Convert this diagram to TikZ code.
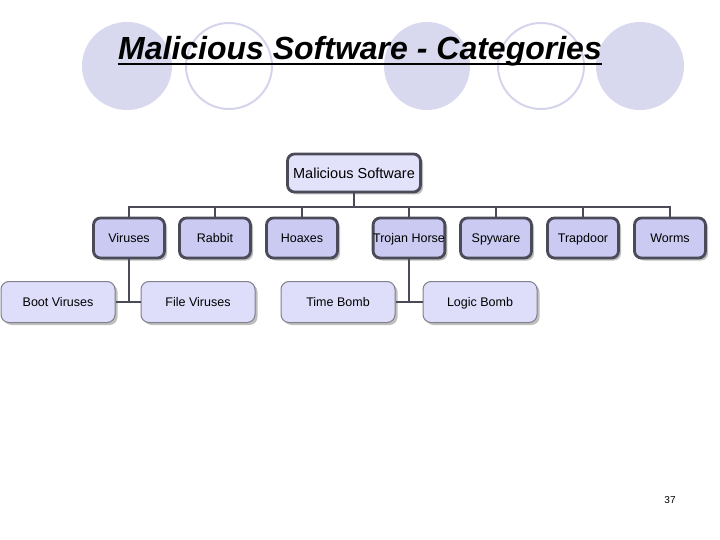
\documentclass[tikz,border=0pt]{standalone}
\usepackage{fontspec}
\setmainfont{Liberation Sans}
\usetikzlibrary{shadows}
\definecolor{circfill}{RGB}{216,216,238}
\definecolor{circline}{RGB}{212,212,236}
\definecolor{rootfill}{RGB}{226,226,250}
\definecolor{lvtwofill}{RGB}{202,202,242}
\definecolor{lvthreefill}{RGB}{222,222,250}
\definecolor{darkline}{RGB}{74,74,88}
\definecolor{greyline}{RGB}{128,128,140}
\tikzset{
  shad/.style={drop shadow={shadow xshift=2.5pt,shadow yshift=-2.5pt,fill=black,opacity=0.25}},
  rootbox/.style={shad,draw=darkline,line width=2.8pt,fill=rootfill,rounded corners=7pt,
    minimum width=133pt,minimum height=38pt,inner sep=0pt,text height=13.4pt,text depth=3pt,
    font=\fontsize{14.5}{16}\selectfont},
  lvtwo/.style={shad,draw=darkline,line width=2.8pt,fill=lvtwofill,rounded corners=7pt,
    minimum width=71pt,minimum height=40pt,inner sep=0pt,text height=11.5pt,text depth=2.6pt,
    font=\fontsize{12.5}{14}\selectfont},
  lvthree/.style={shad,draw=greyline,line width=1pt,fill=lvthreefill,rounded corners=8pt,
    minimum width=114pt,minimum height=41pt,inner sep=0pt,text height=11.5pt,text depth=2.6pt,
    font=\fontsize{12.5}{14}\selectfont},
  conn/.style={draw=darkline,line width=2.6pt},
  fullcirc/.style={fill=circfill,draw=none},
  ringcirc/.style={draw=circline,line width=2pt,fill=none}
}
\begin{document}
\begin{tikzpicture}[x=1pt,y=-1pt]
\useasboundingbox (0,0) rectangle (720,540);
% decorative circles
\path[fullcirc] (127,66) ellipse [x radius=45,y radius=44];
\path[ringcirc] (229,66) ellipse [x radius=43,y radius=43];
\path[fullcirc] (427,66) ellipse [x radius=43,y radius=44];
\path[ringcirc] (541,66) ellipse [x radius=43,y radius=43];
\path[fullcirc] (640,66) ellipse [x radius=44,y radius=44];
% title
\node[anchor=base,inner sep=0pt,font=\fontsize{32}{36}\selectfont\bfseries\itshape] (title) at (360,60) {Malicious Software - Categories};
\draw[line width=2pt] ([yshift=-4pt]title.base west) -- ([yshift=-4pt]title.base east);
% junction coordinates
\coordinate (busroot) at (354,207);
\coordinate (busl) at (129,207);
\coordinate (busr) at (670,207);
\coordinate (vj) at (129,302);
\coordinate (tj) at (409,302);
% nodes
\node[rootbox] (root) at (354,173) {Malicious Software};
\node[lvtwo] (vir) at (129,238) {Viruses};
\node[lvtwo] (rab) at (215,238) {Rabbit};
\node[lvtwo] (hoa) at (302,238) {Hoaxes};
\node[lvtwo] (tro) at (409,238) {Trojan Horse};
\node[lvtwo] (spy) at (496,238) {Spyware};
\node[lvtwo] (trap) at (583,238) {Trapdoor};
\node[lvtwo] (worm) at (670,238) {Worms};
\node[lvthree] (boot) at (58,302) {Boot Viruses};
\node[lvthree] (file) at (198,302) {File Viruses};
\node[lvthree] (time) at (338,302) {Time Bomb};
\node[lvthree] (logic) at (480,302) {Logic Bomb};
% connectors
\draw[conn] (root.south) -- (busroot);
\draw[conn,line cap=rect] (busl) -- (busr);
\draw[conn] (vir.north |- busl) -- (vir.north);
\draw[conn] (rab.north |- busl) -- (rab.north);
\draw[conn] (hoa.north |- busl) -- (hoa.north);
\draw[conn] (tro.north |- busl) -- (tro.north);
\draw[conn] (spy.north |- busl) -- (spy.north);
\draw[conn] (trap.north |- busl) -- (trap.north);
\draw[conn] (worm.north |- busl) -- (worm.north);
\draw[conn] (vir.south) -- (vj);
\draw[conn] (boot.east) -- (file.west);
\draw[conn] (tro.south) -- (tj);
\draw[conn] (time.east) -- (logic.west);
% page number
\node[font=\fontsize{10}{12}\selectfont,inner sep=0pt] (pg) at (670,500) {37};
\end{tikzpicture}
\end{document}
